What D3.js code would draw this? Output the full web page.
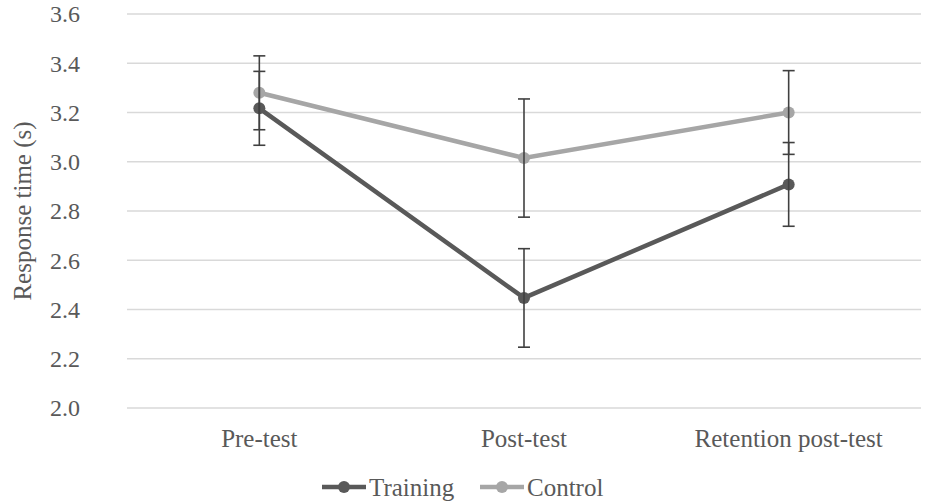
<!DOCTYPE html>
<html>
<head>
<meta charset="utf-8">
<script src="https://cdn.jsdelivr.net/npm/d3@7"></script>
<style>
  body { margin: 0; background: #fff; }
  svg text { font-family: "Liberation Serif", "Times New Roman", serif; fill: #595959; }
</style>
</head>
<body>
<div id="chart"></div>
<script>
// data
var phases = ["Pre-test", "Post-test", "Retention post-test"];
var trainingMean = [3.217, 2.447, 2.908];
var trainingErr = [0.15, 0.20, 0.17];
var controlMean = [3.28, 3.015, 3.20];
var controlErr = [0.15, 0.24, 0.17];
var yTicks = [2.0, 2.2, 2.4, 2.6, 2.8, 3.0, 3.2, 3.4, 3.6];

var width = 925, height = 504;
var plotLeft = 127, plotRight = 921, plotTop = 14, plotBottom = 408;

var series = [
  { name: "Training", mean: trainingMean, err: trainingErr, color: "#595959" },
  { name: "Control", mean: controlMean, err: controlErr, color: "#a6a6a6" }
];

var svg = d3.select("#chart").append("svg")
  .attr("width", width)
  .attr("height", height);

var x = d3.scalePoint().domain(phases).range([plotLeft, plotRight]).padding(0.5);
var y = d3.scaleLinear().domain([2.0, 3.6]).range([plotBottom, plotTop]);

// gridlines
svg.append("g").selectAll("line")
  .data(yTicks)
  .enter().append("line")
  .attr("x1", plotLeft)
  .attr("x2", plotRight)
  .attr("y1", function (d) { return y(d); })
  .attr("y2", function (d) { return y(d); })
  .style("stroke", "#d9d9d9")
  .style("stroke-width", 1.5);

// y tick labels
svg.append("g").selectAll("text")
  .data(yTicks)
  .enter().append("text")
  .attr("x", 80)
  .attr("y", function (d) { return y(d); })
  .attr("dy", ".35em")
  .attr("text-anchor", "end")
  .style("font-size", "24px")
  .text(function (d) { return d.toFixed(1); });

// y axis title
svg.append("text")
  .attr("transform", "translate(22," + ((plotTop + plotBottom) / 2) + ") rotate(-90)")
  .attr("dy", ".35em")
  .attr("text-anchor", "middle")
  .style("font-size", "25px")
  .text("Response time (s)");

// category labels
svg.append("g").selectAll("text")
  .data(phases)
  .enter().append("text")
  .attr("x", function (d) { return x(d); })
  .attr("y", 447)
  .attr("text-anchor", "middle")
  .style("font-size", "25px")
  .text(function (d) { return d; });

// lines with markers
var line = d3.line()
  .x(function (d, i) { return x(phases[i]); })
  .y(function (d) { return y(d); });

series.slice().reverse().forEach(function (s) {
  svg.append("path")
    .datum(s.mean)
    .attr("d", line)
    .style("fill", "none")
    .style("stroke", s.color)
    .style("stroke-width", 4.5);
  svg.append("g").selectAll("circle")
    .data(s.mean)
    .enter().append("circle")
    .attr("cx", function (d, i) { return x(phases[i]); })
    .attr("cy", function (d) { return y(d); })
    .attr("r", 6)
    .style("fill", s.color);
});

// error bars
series.forEach(function (s) {
  var g = svg.append("g").style("stroke", "#404040").style("stroke-width", 1.6);
  s.mean.forEach(function (m, i) {
    var cx = x(phases[i]);
    var hi = y(m + s.err[i]), lo = y(m - s.err[i]);
    g.append("line").attr("x1", cx).attr("x2", cx).attr("y1", hi).attr("y2", lo);
    g.append("line").attr("x1", cx - 6).attr("x2", cx + 6).attr("y1", hi).attr("y2", hi);
    g.append("line").attr("x1", cx - 6).attr("x2", cx + 6).attr("y1", lo).attr("y2", lo);
  });
});

// legend
var legendX = [322, 480];
series.forEach(function (s, i) {
  var lg = svg.append("g").attr("transform", "translate(" + legendX[i] + ",487)");
  lg.append("line").attr("x1", 0).attr("x2", 44).attr("y1", 0).attr("y2", 0)
    .style("stroke", s.color).style("stroke-width", 4.5);
  lg.append("circle").attr("cx", 22).attr("cy", 0).attr("r", 6).style("fill", s.color);
  lg.append("text").attr("x", 47).attr("y", 0).attr("dy", ".35em")
    .style("font-size", "25px").text(s.name);
});
</script>
</body>
</html>
